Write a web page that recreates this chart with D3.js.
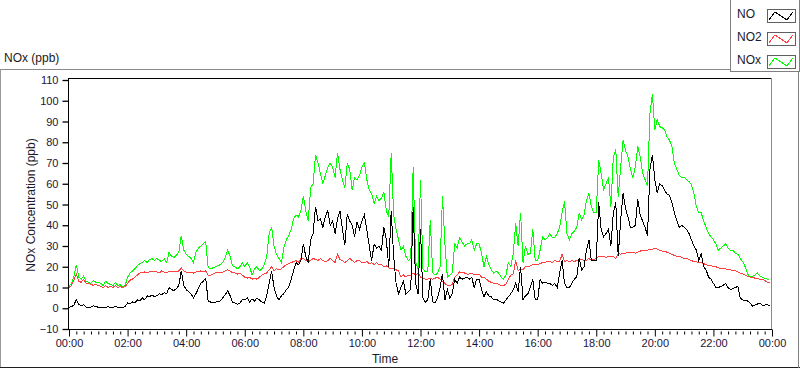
<!DOCTYPE html>
<html><head><meta charset="utf-8">
<script src="https://cdn.jsdelivr.net/npm/d3@7"></script>
<style>
body{margin:0;background:#fff}
svg{display:block;font-family:"Liberation Sans",Arial,sans-serif}
</style>
</head><body>
<svg id="chart" width="800" height="369"></svg>
<script>
// ---- data (5-minute samples from 00:00 to 23:55) ----
const stepMinutes = 5;
const seriesNames = ["NO", "NO2", "NOx"];
const seriesColors = ["#000000", "#ff4040", "#00ff00"];

const NO = [
 0.5,0.8,1.5,4.2,2,1.2,1.8,0.6,0.4,0.5,1.2,0.8,
 0.5,0.6,0.4,0.5,0.7,0.5,0.4,1,0.5,0.6,0.3,0.8,
 2.5,2,3,2.5,4,3.5,5,4,6,5.5,6.5,5.5,
 6,7,6.5,7.5,7,10,9,8.5,9.5,11,18,11,
 9,8,7,5,7,9.5,12,13,14.5,3.5,3,3,
 3,3.2,3.5,5,6.5,8.5,6,3,2.5,2,2.5,4,
 4,5,3,4.5,3.5,5,4,3,2.5,6,12,18,
 10,6,4,6,7,9,10,14,18,22,21,23,
 31,25,22,33,36,49,42,43,39,44,47,40,
 42,36,43,47,38,30.5,45.5,42,40,34.5,41.5,38,
 42,45,38,30,23,31,29,30,28,39,33,20,
 47,25,12,7,10,13,7,8,9,49,12,7,
 38,5,3,4,14,3,2.5,5,10,16.5,4,9,
 5,7,14,12,15,14,14.5,15,14,15,10,14,
 14,9,5.5,8,6,5.5,4,4.5,3.5,3,2.5,4,
 5.5,7,9,12,8,20,4,6,7,10,14,4,
 4,14,12,12.5,12,12,11,12,10,17,23,12,
 10,10,12,14,15,24,18.5,20,28,33,23,23,
 23,51,38,34.5,36,38,30,46,51,25,42.5,55.5,
 48,44,39,39,40,52.5,45,42,39,35,67,74,
 62,55.5,60,59,57,55,54.5,51,46,42.5,39,40,
 39,38,36,33,30,28,23,26.5,20,18.5,15,14,
 12,10,10,10.5,11,12,10,9,9.5,10,10.5,5,
 4,3.5,3.5,2.5,1,1.5,2,2.5,1.5,1.5,2,1
];
const NO2 = [
 10,11,13.5,16.5,13,12.5,14,12,12,11.5,11,11.5,
 11,10.5,10,11,10,10.5,10,11,10,10.5,10,10.5,
 12,13.5,14,15,16,17,17,17.5,17,17.5,18,17.5,
 17.5,17,18,17.5,17,18,17.5,18,17.5,18,19.5,18,
 17.5,17,17.5,17,17.5,17.5,18,17.5,18,16,16,16.5,
 17,17.5,17,17.5,18,18.5,18,17,17,16.5,17,16,
 15,14.5,15,14,14.5,14,15,16,16.5,17,18.5,20,
 18,19,18.5,19,20,21,21.5,22,22.5,23,22,24,
 24,23,22.5,23,24,23.5,23,24,23,22.5,23,24,
 23,22,26,23.5,23,22,23,24,23,22,23,23,
 22,22,22.5,21.5,22,21,22,21,21,20,20.5,19.5,
 19,19,18.5,18,15,16,15,16,16,17,16,17,
 15,14.5,14,14,14.5,14,14.5,15,14,13,12,11,
 11,11.5,15,16,17.5,17,17,16.5,16.5,17,16,16.5,
 16.5,15,15,14,13,12.5,12,12,11.5,11,11,11.5,
 14,16,16.5,23,18,19,18.5,20,20,20.5,21,21,
 21,21.5,22,22,22.5,22.5,22,23,22.5,22.5,26,22.5,
 23,22.5,23,22.5,23,23,23.5,23,23,24,23,23.5,
 24,25,25,25,24.5,25,25,25,24,26.5,26,26.5,
 26.5,27,27,27,26.5,27,27.5,28,28,28,28.5,28.5,
 29,28.5,28,27.5,27.5,27,26.5,26,25.5,25,25,24.5,
 24,24,23.5,23,22.5,22.5,22,22,21.5,21,20.5,20.5,
 20,20,19.5,19,19,19,18.5,18.5,18,18,17.5,17,
 16.5,16,15.5,15,15,14.5,14.5,14,14,13.5,12.5,12.5
];
const NOx = [
 10.5,12,15,21,15,14,15.5,13,12.5,12,13.5,12.5,
 12.5,12,11,13,12,11.5,11,12.5,11,11.5,10,11,
 15,17,18,19,20.5,21.5,22,23,22,23.5,24,23,
 24,23,22.5,24,22,27,25,24.5,25.5,27,35,28,
 26,25,24,22,27,29,30,31,32,19.5,19,19.5,
 20,20.5,21,22,24.5,28,25,20.5,20,19,20,22,
 20,22,20,16,19,20,18,19,21,25,36,39,
 30,26,24,22,29,33,35,38,43,45,44,47,
 54,47,42,58,60,74,70,65,60,64,68,70,
 68,63,75,67,62,58,70,67,57,63,62,64,
 68,70,62,57,55,50.5,54,52,53,56,47,44,
 75,45,38,33,28,30,25,23,24,68,22,19,
 62,19,17.5,18,42.5,17,16,17,20,54,31,15,
 16,17,31,29,34,32,30,31,31,33,28,31,
 31,26.5,20,25,21,18.5,17,18,17,15,14,16,
 22,20,26.5,41,30,46,22,30,26,26.5,38,23,
 23,28,34.5,33,34,36,34,34,36,39,46,51.5,
 36,33,36,37,39,46,42.5,45,52,55.5,49,46,
 46,71.5,65,57,60,63,49,73,76.5,53.5,68,81,
 76,73,67,63,68,78,73,65,62,59,94,103,
 86,91,87.5,87,86,82.5,81,78,70,67,64,63,
 63,62,61,59.5,55.5,49,46,46,42,39,36,34.5,
 33,31,28,29,30,31,29,28,28,26.5,26,24,
 22.5,20,16.5,15,15.5,16,17,15.5,15,14.5,14,13.5
];

const yTicks = [-10,0,10,20,30,40,50,60,70,80,90,100,110];
const xMajorTicks = [0,120,240,360,480,600,720,840,960,1080,1200,1320,1440];
const xTickLabels = ["00:00","02:00","04:00","06:00","08:00","10:00","12:00","14:00","16:00","18:00","20:00","22:00","00:00"];
const xMinorStep = 15;

// ---- drawing ----
const svg = d3.select("#chart");
const pLeft = 69, pRight = 772, pTop = 80, pBottom = 329;
const x = d3.scaleLinear().domain([0, 1440]).range([pLeft, pRight]);
const y = d3.scaleLinear().domain([-10, 110]).range([pBottom, pTop]);
const textColor = "#1c1436";

// outer panel
svg.append("line").attr("x1",0).attr("x2",730).attr("y1",69.5).attr("y2",69.5).attr("stroke","#8a8a8a");
svg.append("line").attr("x1",0.5).attr("x2",0.5).attr("y1",69).attr("y2",368).attr("stroke","#9a9a9a");
svg.append("line").attr("x1",0).attr("x2",800).attr("y1",367.5).attr("y2",367.5).attr("stroke","#202020");
svg.append("line").attr("x1",798.5).attr("x2",798.5).attr("y1",72).attr("y2",368).attr("stroke","#808080");

svg.append("text").attr("x",4).attr("y",62).attr("font-size",12).attr("fill","#1a1a1a").text("NOx (ppb)");

// plot frame
svg.append("line").attr("x1",68).attr("x2",772).attr("y1",78.5).attr("y2",78.5).attr("stroke","#000");
svg.append("line").attr("x1",771.5).attr("x2",771.5).attr("y1",78).attr("y2",330).attr("stroke","#8a8a8a");

// data lines
svg.append("clipPath").attr("id","clip").append("rect")
  .attr("x",pLeft-1).attr("y",79).attr("width",pRight-pLeft).attr("height",pBottom-79+1);
const line = d3.line().x((d,i)=>x(i*stepMinutes)).y(d=>y(d));
const seriesData = [NO, NO2, NOx];
const g = svg.append("g").attr("clip-path","url(#clip)");
[2,1,0].forEach(k=>{
  g.append("path").datum(seriesData[k]).attr("d",line)
   .attr("fill","none").attr("stroke",seriesColors[k]).attr("stroke-width",1)
   .attr("stroke-linejoin","miter").attr("shape-rendering","crispEdges");
});

// y axis
const yAxis = svg.append("g").attr("transform","translate(68.5,0)")
  .call(d3.axisLeft(y).tickValues(yTicks).tickSize(6).tickPadding(4).tickSizeOuter(0));
yAxis.select(".domain").attr("d",`M0,78V${pBottom+1}`).attr("stroke","#000");
yAxis.selectAll(".tick line").attr("stroke","#000").attr("stroke-width",1.3);
yAxis.selectAll("text").attr("font-size",11).attr("fill",textColor).attr("font-family","Liberation Sans, Arial, sans-serif");

// x axis minor ticks
const minor = d3.range(0, 1441, xMinorStep).filter(v=>v%120!==0);
svg.append("g").attr("transform",`translate(0,${pBottom+0.5})`)
  .call(d3.axisBottom(x).tickValues(minor).tickSize(4).tickFormat(""))
  .call(s=>s.select(".domain").remove())
  .selectAll(".tick line").attr("stroke","#000").attr("y1",2).attr("y2",5);

const xAxis = svg.append("g").attr("transform",`translate(0,${pBottom+0.5})`)
  .call(d3.axisBottom(x).tickValues(xMajorTicks).tickSize(7).tickPadding(3)
        .tickFormat((d,i)=>xTickLabels[i]).tickSizeOuter(0));
xAxis.select(".domain").attr("d",`M68,0H772`).attr("stroke","#000");
xAxis.selectAll(".tick line").attr("stroke","#000");
xAxis.selectAll("text").attr("font-size",11).attr("fill",textColor).attr("font-family","Liberation Sans, Arial, sans-serif");

// axis titles
svg.append("text").attr("x",385).attr("y",363).attr("text-anchor","middle")
  .attr("font-size",12).attr("fill","#1a1a2a").text("Time");
svg.append("text").attr("transform","translate(35,205) rotate(-90)").attr("text-anchor","middle")
  .attr("font-size",12).attr("fill","#1a1a2a").text("NOx Concentration (ppb)");

// legend
const lg = svg.append("g");
lg.append("rect").attr("x",730.5).attr("y",-1).attr("width",69).attr("height",72.5)
  .attr("fill","#fff").attr("stroke","#808080");
const legendY = [9, 32, 55];
seriesNames.forEach((n,i)=>{
  const yy = legendY[i];
  lg.append("text").attr("x",737).attr("y",yy+9).attr("font-size",12).attr("fill","#1a1a2a").text(n);
  lg.append("rect").attr("x",767.5).attr("y",yy+0.5).attr("width",28).attr("height",13)
    .attr("fill","#fff").attr("stroke","#606060");
  lg.append("path").attr("d",`M769,${yy+11}L775,${yy+3}L787,${yy+11}L793,${yy+3}`)
    .attr("fill","none").attr("stroke",seriesColors[i]).attr("stroke-width",1)
    .attr("shape-rendering","crispEdges");
});
</script>
</body></html>
